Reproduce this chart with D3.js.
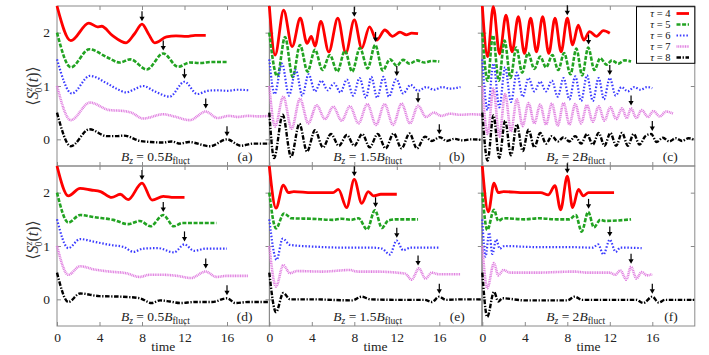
<!DOCTYPE html>
<html>
<head>
<meta charset="utf-8">
<script src="https://cdn.jsdelivr.net/npm/d3@7"></script>
<style>
  body { margin: 0; background: #fff; }
</style>
</head>
<body>
<div class="canvas"></div>
<script>
// data as (time, value) turning points
const taus = [4, 5, 6, 7, 8];
const xTicks = [0, 4, 8, 12, 16];
const yTicks = [0, 1, 2];
const panelLetters = ['a', 'b', 'c', 'd', 'e', 'f'];
const fieldLabels = ['0.5', '1.5', '2', '0.5', '1.5', '2'];
const arrowTimes = [8, 10, 12, 14, 16];

// panel (a)  Bz = 0.5 Bfluct
const panelA = [
  [[0,2.5],[1.3,1.85],[3.0,2.18],[3.8,2.11],[4.2,2.12],[5.2,1.95],[6.5,1.81],[7.3,1.98],[8.0,2.16],[8.6,1.98],[9.2,1.81],[10.3,1.92],[11.2,1.94],[12.2,1.93],[13,1.95],[14,1.95]],
  [[0,2.0],[1.3,1.35],[3.05,1.69],[4.7,1.54],[5.9,1.44],[6.9,1.5],[8.45,1.31],[10.0,1.61],[11.4,1.36],[12.5,1.44],[13.5,1.43],[14.5,1.45],[16,1.45]],
  [[0,1.5],[1.4,0.86],[3.1,1.19],[4.7,1.05],[5.6,0.95],[6.5,0.88],[7.2,0.93],[8.1,1.0],[9.2,0.9],[10.6,0.8],[12.0,1.08],[13.2,0.85],[14.2,0.91],[15,0.92],[16,0.91],[17,0.93],[18,0.92]],
  [[0,1.0],[1.3,0.36],[3.1,0.69],[4.9,0.55],[6.3,0.53],[7.0,0.5],[8.1,0.39],[10.0,0.47],[11,0.43],[12.5,0.36],[14.0,0.52],[15.1,0.40],[16.2,0.44],[17,0.42],[18,0.44],[19,0.43],[20,0.44]],
  [[0,0.5],[1.3,-0.13],[3.05,0.19],[4.7,0.06],[5.6,0.06],[6.3,0.07],[7.8,-0.03],[8.8,-0.05],[10,-0.06],[10.8,-0.04],[11.6,-0.08],[12.4,-0.05],[14.4,-0.13],[16.0,0.0],[17.3,-0.12],[18.5,-0.08],[20,-0.08]]
];

// panel (b)  Bz = 1.5 Bfluct
const panelB = [
  [[0,2.5],[0.55,1.58],[1.35,2.42],[2.15,1.74],[2.92,2.27],[3.55,1.8],[3.95,1.93],[4.3,1.75],[4.85,2.21],[5.6,1.64],[6.45,2.27],[7.2,1.62],[8.0,2.24],[8.7,1.71],[9.43,2.11],[10.1,1.86],[10.88,2.05],[11.6,1.93],[12.3,2.01],[12.9,1.96],[13.4,1.99],[14,1.98]],
  [[0,2.0],[0.75,1.18],[1.48,1.92],[2.2,1.17],[2.89,1.77],[3.6,1.27],[4.3,1.68],[5.0,1.3],[5.7,1.58],[6.4,1.27],[7.12,1.66],[7.8,1.27],[8.53,1.71],[9.25,1.33],[9.97,1.77],[10.67,1.29],[11.36,1.5],[12.0,1.38],[12.6,1.49],[13.2,1.42],[13.9,1.48],[14.6,1.44],[15.3,1.47],[16,1.46]],
  [[0,1.5],[0.5,0.85],[1.2,1.42],[1.85,0.82],[2.5,1.30],[3.1,0.82],[3.7,1.22],[4.3,0.90],[4.9,1.1],[5.5,0.92],[6.1,1.05],[6.7,0.88],[7.3,1.12],[7.9,0.82],[8.5,1.15],[9.1,0.78],[9.6,1.17],[10.15,0.78],[10.75,1.17],[11.25,0.80],[11.95,1.13],[12.6,0.86],[13.3,1.02],[14.0,0.91],[14.8,0.98],[15.5,0.93],[16.3,0.98],[17,0.95],[18,0.98]],
  [[0,1.0],[0.54,0.24],[1.32,0.8],[2.1,0.2],[2.89,0.76],[3.67,0.3],[4.46,0.64],[5.24,0.38],[6.02,0.61],[6.81,0.35],[7.59,0.62],[8.4,0.3],[9.22,0.66],[10.05,0.27],[10.85,0.66],[11.65,0.27],[12.45,0.67],[13.24,0.3],[14.0,0.63],[14.75,0.42],[15.5,0.5],[16.2,0.44],[17,0.48],[18,0.46],[19,0.47],[20,0.46]],
  [[0,0.5],[0.45,-0.35],[1.26,0.46],[2.05,-0.33],[2.83,0.29],[3.55,-0.23],[4.3,0.17],[5.05,-0.15],[5.8,0.1],[6.55,-0.12],[7.3,0.08],[8.0,-0.12],[8.75,0.1],[9.45,-0.15],[10.2,0.1],[10.95,-0.17],[11.7,0.11],[12.45,-0.17],[13.2,0.11],[13.9,-0.17],[14.65,0.05],[15.3,-0.03],[16.05,0.04],[16.7,-0.03],[17.4,0.01],[18.2,-0.02],[19,0.0],[20,-0.01]]
];

// panel (c)  Bz = 2 Bfluct
const panelC = [
  [[0,2.5],[0.5,1.55],[1.03,2.49],[1.63,1.6],[2.23,2.33],[2.8,1.64],[3.39,2.30],[3.97,1.61],[4.55,2.27],[5.1,1.64],[5.68,2.30],[6.26,1.61],[6.84,2.27],[7.42,1.64],[8.0,2.27],[8.5,1.77],[9.03,2.14],[9.55,1.86],[10.1,2.02],[10.75,1.93],[11.4,2.04],[12,1.99]],
  [[0,2.0],[0.5,1.1],[1.0,1.95],[1.55,1.1],[2.1,1.85],[2.65,1.15],[3.2,1.72],[3.75,1.25],[4.3,1.62],[4.9,1.32],[5.45,1.55],[6.0,1.35],[6.6,1.58],[7.15,1.3],[7.7,1.62],[8.3,1.22],[8.85,1.7],[9.4,1.2],[9.97,1.72],[10.55,1.3],[11.1,1.52],[11.7,1.4],[12.2,1.48],[12.8,1.42],[13.4,1.48],[14,1.46]],
  [[0,1.5],[0.5,0.55],[1.05,1.42],[1.6,0.6],[2.15,1.35],[2.7,0.7],[3.25,1.25],[3.8,0.8],[4.35,1.15],[4.9,0.9],[5.45,1.08],[6.0,0.9],[6.55,1.1],[7.1,0.8],[7.65,1.15],[8.2,0.75],[8.75,1.18],[9.3,0.72],[9.85,1.2],[10.4,0.72],[10.95,1.15],[11.45,0.75],[12.0,1.15],[12.55,0.82],[13.1,0.98],[13.7,0.9],[14.3,0.98],[14.9,0.93],[15.5,0.98],[16,0.96]],
  [[0,1.0],[0.5,0.1],[1.05,0.95],[1.6,0.05],[2.15,0.85],[2.7,0.15],[3.25,0.75],[3.8,0.25],[4.35,0.68],[4.9,0.3],[5.45,0.65],[6.0,0.28],[6.55,0.67],[7.1,0.26],[7.65,0.68],[8.2,0.28],[8.75,0.66],[9.3,0.3],[9.85,0.64],[10.4,0.33],[10.95,0.62],[11.5,0.35],[12.05,0.6],[12.6,0.38],[13.15,0.58],[13.6,0.4],[14.0,0.58],[14.5,0.4],[15.0,0.55],[15.6,0.42],[16.1,0.53],[16.7,0.43],[17.3,0.52],[18,0.48]],
  [[0,0.5],[0.5,-0.4],[1.05,0.45],[1.6,-0.35],[2.15,0.35],[2.7,-0.3],[3.25,0.28],[3.8,-0.22],[4.35,0.18],[4.9,-0.15],[5.45,0.12],[6.0,-0.08],[6.55,0.06],[7.1,-0.04],[7.65,0.04],[8.2,-0.04],[8.75,0.06],[9.3,-0.08],[9.85,0.1],[10.4,-0.1],[10.95,0.12],[11.5,-0.12],[12.05,0.12],[12.6,-0.12],[13.15,0.12],[13.7,-0.12],[14.25,0.1],[14.8,-0.1],[15.35,0.06],[15.9,0.1],[16.4,-0.05],[17,0.03],[17.6,-0.04],[18.2,0.02],[18.8,-0.03],[19.4,0.02],[20,-0.01]]
];

// panel (d)  Bz = 0.5 Bfluct
const panelD = [
  [[0,2.5],[1.07,1.94],[2.17,2.08],[3.2,2.05],[4.1,2.02],[5.15,1.91],[5.95,1.97],[6.7,1.87],[8.0,2.18],[8.95,1.86],[10,1.93],[11,1.91],[12,1.91]],
  [[0,2.0],[1.07,1.44],[2.17,1.58],[3.5,1.54],[5.3,1.49],[6.7,1.41],[7.8,1.47],[8.8,1.37],[10.0,1.58],[11.0,1.37],[11.8,1.43],[13,1.43],[15,1.43]],
  [[0,1.5],[1.07,0.96],[2.17,1.13],[3.5,1.08],[5.0,1.02],[6.3,0.98],[7.2,0.89],[8.1,0.95],[9.5,0.96],[11.0,0.88],[12.0,1.03],[12.9,0.91],[14,0.95],[16,0.95]],
  [[0,1.0],[1.07,0.46],[2.17,0.62],[3.5,0.56],[5.0,0.52],[6.5,0.49],[7.8,0.42],[8.7,0.46],[10,0.46],[11.3,0.44],[12.6,0.40],[14,0.52],[15,0.42],[16,0.44],[18,0.44]],
  [[0,0.5],[1.07,-0.05],[2.17,0.11],[4.0,0.06],[6.0,0.05],[7.8,0.02],[8.9,-0.07],[9.7,-0.02],[10.6,-0.04],[11.6,-0.07],[13,-0.05],[14.6,-0.05],[16,0.02],[16.8,-0.07],[18,-0.05],[20,-0.05]]
];

// panel (e)  Bz = 1.5 Bfluct
const panelE = [
  [[0,2.5],[0.63,1.71],[1.32,2.14],[1.8,2.0],[2.3,2.02],[4,2.0],[6.0,2.0],[6.5,2.06],[7.28,1.72],[8.0,2.25],[8.7,1.8],[9.31,2.02],[9.8,1.94],[10.5,1.97],[12,1.97]],
  [[0,2.0],[0.63,1.33],[1.38,1.61],[2.1,1.52],[4,1.51],[6,1.49],[6.8,1.51],[7.7,1.49],[8.4,1.52],[9.2,1.31],[9.94,1.67],[10.6,1.34],[11.2,1.48],[12,1.5],[14,1.5]],
  [[0,1.5],[0.69,0.74],[1.26,1.14],[1.95,1.02],[4,0.99],[7,0.97],[9.6,0.97],[10.6,0.95],[11.35,0.84],[11.98,1.10],[12.6,0.92],[13.3,0.97],[16,0.97]],
  [[0,1.0],[0.63,0.24],[1.32,0.64],[1.95,0.49],[2.6,0.53],[5,0.52],[7.6,0.55],[8.3,0.52],[10,0.52],[12,0.5],[12.8,0.48],[13.4,0.37],[14.08,0.58],[14.7,0.39],[15.3,0.50],[16,0.47],[18,0.47]],
  [[0,0.5],[0.63,-0.24],[1.32,0.12],[1.95,0.0],[4,0.0],[7.8,-0.02],[8.7,0.05],[9.5,0.0],[12,-0.01],[14.6,-0.01],[15.3,-0.05],[16,0.05],[16.6,-0.01],[18,0.0],[20,0.0]]
];

// panel (f)  Bz = 2 Bfluct
const panelF = [
  [[0,2.5],[0.57,1.64],[1.1,2.18],[1.5,2.0],[2,2.02],[4,2.0],[5.5,2.0],[6.2,1.96],[6.84,2.13],[7.37,1.68],[8.0,2.31],[8.5,1.72],[9.05,2.06],[9.5,1.94],[10,2.0],[12.4,2.0]],
  [[0,2.0],[0.47,1.3],[1.1,1.68],[1.5,1.47],[2,1.52],[4,1.5],[5.3,1.52],[7,1.5],[8.2,1.5],[8.8,1.58],[9.35,1.27],[9.97,1.64],[10.5,1.35],[11.1,1.49],[11.6,1.47],[14,1.5]],
  [[0,1.5],[0.3,0.8],[0.65,1.25],[0.95,0.85],[1.3,1.12],[1.65,0.95],[2.1,1.0],[5,0.98],[8,0.98],[10.4,0.97],[10.9,1.03],[11.4,0.84],[12.0,1.12],[12.55,0.89],[13,0.97],[15,0.96]],
  [[0,1.0],[0.47,0.21],[1.1,0.68],[1.5,0.45],[2.0,0.55],[2.6,0.5],[5,0.5],[8.6,0.52],[10,0.5],[12,0.5],[12.5,0.46],[13.0,0.54],[13.55,0.37],[14.0,0.61],[14.5,0.39],[15.0,0.51],[15.5,0.45],[16,0.47]],
  [[0,0.5],[0.47,-0.33],[1.1,0.14],[1.5,-0.04],[1.9,0.02],[4,-0.02],[8.0,-0.02],[8.7,0.05],[9.4,-0.01],[14.5,-0.01],[15.15,-0.07],[16.0,0.05],[16.6,-0.06],[17.2,-0.01],[20,-0.01]]
];

const panels = [panelA, panelB, panelC, panelD, panelE, panelF];

// layout + styles
const dims = {width: 709, height: 355};
const lay = {left: [57, 269.3, 482.3], top: [6, 166], w: 212.5, h: 160};
const frameCol = '#8a8a8a';
const serif = '"Liberation Serif", "DejaVu Serif", serif';

const styles = [
  {color: '#ff0000', width: 2.8, dash: null},
  {color: '#22a322', width: 2.6, dash: '4,1.6'},
  {color: '#3a3aff', width: 2.2, dash: '1.5,1.8'},
  {color: '#e07fe0', width: 2.6, dash: '1,0.7'},
  {color: '#000000', width: 2.4, dash: '4.5,1.6,1.3,1.6'}
];

const svg = d3.select('.canvas')
  .append('svg')
  .attr('width', dims.width)
  .attr('height', dims.height)
  .style('font-family', serif);

const x = d3.scaleLinear().domain([0, 20]).range([0, lay.w]);
const y = d3.scaleLinear().domain([-0.5, 2.5]).range([lay.h, 0]);

const line = d3.line()
  .x(d => x(d[0]))
  .y(d => y(d[1]))
  .curve(d3.curveMonotoneX);

const textStyle = s => s.selectAll('text')
  .attr('fill', '#222').attr('font-size', 13.5)
  .style('font-family', serif);

panels.forEach((curves, p) => {
  const col = p % 3, row = Math.floor(p / 3);
  const g = svg.append('g')
    .attr('transform', `translate(${lay.left[col]}, ${lay.top[row]})`);

  // frame
  g.append('rect')
    .attr('width', lay.w).attr('height', lay.h)
    .attr('fill', 'none').attr('stroke', frameCol).attr('stroke-width', 1);

  // inward ticks on all sides
  const tickStyle = sel => {
    sel.select('.domain').remove();
    sel.selectAll('line').attr('stroke', frameCol);
  };
  g.append('g').attr('transform', `translate(0, ${lay.h})`)
    .call(d3.axisBottom(x).tickValues(xTicks).tickSizeInner(-4).tickSizeOuter(0).tickPadding(6)
      .tickFormat(row === 1 ? d3.format('d') : ''))
    .call(tickStyle)
    .call(textStyle);
  g.append('g')
    .call(d3.axisTop(x).tickValues(xTicks).tickSizeInner(-4).tickSizeOuter(0).tickFormat(''))
    .call(tickStyle);
  g.append('g')
    .call(d3.axisLeft(y).tickValues(yTicks).tickSizeInner(-4).tickSizeOuter(0).tickPadding(7)
      .tickFormat(col === 0 ? d3.format('d') : ''))
    .call(tickStyle)
    .call(textStyle);
  g.append('g').attr('transform', `translate(${lay.w}, 0)`)
    .call(d3.axisRight(y).tickValues(yTicks).tickSizeInner(-4).tickSizeOuter(0).tickFormat(''))
    .call(tickStyle);

  // curves
  g.selectAll('path.curve')
    .data(curves)
    .enter()
    .append('path')
    .attr('class', 'curve')
    .attr('d', line)
    .attr('fill', 'none')
    .attr('stroke', (d, i) => styles[i].color)
    .attr('stroke-width', (d, i) => styles[i].width)
    .attr('stroke-dasharray', (d, i) => styles[i].dash);

  // arrows above the echo peaks
  curves.forEach((c, i) => {
    const t = arrowTimes[i];
    const near = c.filter(d => Math.abs(d[0] - t) <= 0.35);
    const tipY = y(d3.max(near, d => d[1])) - 3;
    const ax = x(t);
    g.append('line')
      .attr('x1', ax).attr('x2', ax)
      .attr('y1', tipY - 10).attr('y2', tipY - 4)
      .attr('stroke', '#000').attr('stroke-width', 1.2);
    g.append('path')
      .attr('d', `M${ax - 2.6},${tipY - 4.5} L${ax + 2.6},${tipY - 4.5} L${ax},${tipY} Z`)
      .attr('fill', '#000');
  });

  // field label and panel letter
  const lab = g.append('text')
    .attr('x', 64).attr('y', lay.h - 5)
    .attr('font-size', 13.5).attr('fill', '#222');
  lab.append('tspan').attr('font-style', 'italic').text('B');
  lab.append('tspan').attr('font-style', 'italic').attr('font-size', 9.5).attr('dy', 2.5).text('z');
  lab.append('tspan').attr('dy', -2.5).text(` = ${fieldLabels[p]}`);
  lab.append('tspan').attr('font-style', 'italic').text('B');
  lab.append('tspan').attr('font-size', 9.5).attr('dy', 2.5).text('fluct');

  g.append('text')
    .attr('x', lay.w - 17).attr('y', lay.h - 5)
    .attr('text-anchor', 'end').attr('font-size', 13.5).attr('fill', '#222')
    .text(`(${panelLetters[p]})`);

  if (row === 1) {
    g.append('text')
      .attr('x', lay.w / 2).attr('y', lay.h + 25)
      .attr('text-anchor', 'middle').attr('font-size', 13.5).attr('fill', '#222')
      .text('time');
  }
});

// y axis labels
[86, 240].forEach(cy => {
  const t = svg.append('text')
    .attr('transform', `translate(38, ${cy}) rotate(-90)`)
    .attr('text-anchor', 'middle').attr('font-size', 16).attr('fill', '#333');
  t.append('tspan').text('\u27E8');
  t.append('tspan').attr('font-style', 'italic').text('S');
  t.append('tspan').attr('font-size', 10).attr('font-style', 'italic').attr('dy', -6).text('z');
  t.append('tspan').attr('font-size', 10).attr('dx', -5).attr('dy', 10).text('0');
  t.append('tspan').attr('dy', -4).text('(');
  t.append('tspan').attr('font-style', 'italic').text('t');
  t.append('tspan').text(')\u27E9');
});

// legend in panel (c)
const legend = svg.append('g')
  .attr('transform', `translate(636.5, 6.7)`);
legend.append('rect')
  .attr('width', 58.3).attr('height', 56.6)
  .attr('fill', '#fff').attr('stroke', '#000').attr('stroke-width', 1);
taus.forEach((tau, i) => {
  const ly = 6.8 + i * 11;
  const txt = legend.append('text')
    .attr('x', 34).attr('y', ly + 3.6)
    .attr('text-anchor', 'end').attr('font-size', 10.5).attr('fill', '#111');
  txt.append('tspan').attr('font-style', 'italic').text('\u03C4');
  txt.append('tspan').text(` = ${tau}`);
  legend.append('line')
    .attr('x1', 40).attr('x2', 52.5)
    .attr('y1', ly).attr('y2', ly)
    .attr('stroke', styles[i].color)
    .attr('stroke-width', styles[i].width)
    .attr('stroke-dasharray', styles[i].dash);
});
</script>
</body>
</html>
